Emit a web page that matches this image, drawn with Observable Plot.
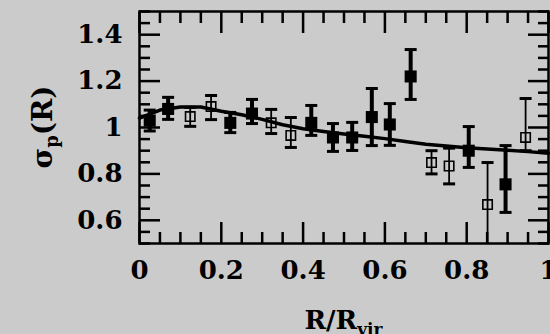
<!DOCTYPE html>
<html>
<head>
<meta charset="utf-8">
<script src="https://cdn.jsdelivr.net/npm/d3@7"></script>
<script src="https://cdn.jsdelivr.net/npm/@observablehq/plot@0.6"></script>
<style>
  html, body { margin: 0; padding: 0; background: #cbcbcb; }
  #chart svg { display: block; }
</style>
</head>
<body>
<div id="chart"></div>
<script>
// Filled squares: projected velocity dispersion profile, sample A
const filledR     = [0.025, 0.07, 0.222, 0.275, 0.42, 0.473, 0.52, 0.568, 0.612, 0.663, 0.805, 0.895];
const filledSigma = [1.03, 1.08, 1.02, 1.06, 1.02, 0.957, 0.957, 1.045, 1.013, 1.22, 0.90, 0.755];
const filledLo    = [0.985, 1.035, 0.978, 1.017, 0.966, 0.897, 0.901, 0.922, 0.923, 1.121, 0.828, 0.634];
const filledHi    = [1.075, 1.13, 1.065, 1.121, 1.095, 1.017, 1.022, 1.168, 1.103, 1.336, 1.004, 0.922];

// Open squares: sample B
const openR     = [0.124, 0.175, 0.322, 0.37, 0.714, 0.757, 0.851, 0.944];
const openSigma = [1.047, 1.09, 1.02, 0.966, 0.849, 0.834, 0.668, 0.957];
const openLo    = [1.005, 1.034, 0.974, 0.914, 0.80, 0.757, 0.487, 0.90];
const openHi    = [1.087, 1.138, 1.078, 1.043, 0.90, 0.911, 0.849, 1.125];

// Model curve
const modelR     = [0, 0.05, 0.10, 0.15, 0.20, 0.25, 0.30, 0.35, 0.40, 0.45, 0.50, 0.55, 0.60, 0.65, 0.70, 0.75, 0.80, 0.85, 0.90, 0.95, 1.00];
const modelSigma = [1.04, 1.075, 1.088, 1.088, 1.07, 1.055, 1.035, 1.012, 0.995, 0.983, 0.972, 0.962, 0.952, 0.94, 0.928, 0.92, 0.913, 0.907, 0.902, 0.896, 0.889];

// Axis ticks and labels
const xTicks = [0, 0.2, 0.4, 0.6, 0.8, 1];
const xTickLabels = ["0", "0.2", "0.4", "0.6", "0.8", "1"];
const yTicks = [0.6, 0.8, 1, 1.2, 1.4];
const yTickLabels = ["0.6", "0.8", "1", "1.2", "1.4"];

const filled = filledR.map((r, i) => ({r, s: filledSigma[i], lo: filledLo[i], hi: filledHi[i]}));
const open = openR.map((r, i) => ({r, s: openSigma[i], lo: openLo[i], hi: openHi[i]}));
const model = modelR.map((r, i) => ({r, s: modelSigma[i]}));

const xMinor = d3.range(0, 1.0001, 0.05).map(v => +v.toFixed(2)).filter(v => !xTicks.includes(v));
const yMinor = d3.range(0.5, 1.5001, 0.05).map(v => +v.toFixed(2)).filter(v => !yTicks.includes(v));

// horizontal cap for error bars
const cap = {draw(ctx, size) { const w = Math.sqrt(size / Math.PI); ctx.moveTo(-w, 0); ctx.lineTo(w, 0); }};

const W = 550, H = 334;
const mL = 139, mR = 2, mT = 11, mB = 91;
const font = {fontFamily: "DejaVu Serif", fontWeight: "bold", fill: "black"};
const tickStyle = {stroke: "black", strokeWidth: 2.5, label: null};

const plot = Plot.plot({
  width: W, height: H,
  marginLeft: mL, marginRight: mR, marginTop: mT, marginBottom: mB,
  style: {background: "#cbcbcb", color: "black"},
  x: {domain: [0, 1]},
  y: {domain: [0.5, 1.5]},
  marks: [
    // inward ticks on all four sides
    Plot.axisX(xTicks, {anchor: "bottom", tickSize: -21, fill: "none", ...tickStyle}),
    Plot.axisX(xMinor, {anchor: "bottom", tickSize: -11, fill: "none", ...tickStyle}),
    Plot.axisX(xTicks, {anchor: "top", tickSize: -21, fill: "none", ...tickStyle}),
    Plot.axisX(xMinor, {anchor: "top", tickSize: -11, fill: "none", ...tickStyle}),
    Plot.axisY(yTicks, {anchor: "left", tickSize: -21, fill: "none", ...tickStyle}),
    Plot.axisY(yMinor, {anchor: "left", tickSize: -11, fill: "none", ...tickStyle}),
    Plot.axisY(yTicks, {anchor: "right", tickSize: -21, fill: "none", ...tickStyle}),
    Plot.axisY(yMinor, {anchor: "right", tickSize: -11, fill: "none", ...tickStyle}),
    // tick labels
    Plot.axisX(xTicks, {anchor: "bottom", tickSize: 0, tickPadding: 17, label: null,
      tickFormat: (d, i) => xTickLabels[i], fontSize: 26, ...font}),
    Plot.axisY(yTicks, {anchor: "left", tickSize: 0, tickPadding: 17, label: null,
      tickFormat: (d, i) => yTickLabels[i], fontSize: 26, ...font}),
    Plot.frame({stroke: "black", strokeWidth: 2.5}),
    // model curve
    Plot.line(model, {x: "r", y: "s", stroke: "black", strokeWidth: 3.5}),
    // open squares with thin error bars
    Plot.ruleX(open, {x: "r", y1: "lo", y2: "hi", stroke: "black", strokeWidth: 1.8, clip: true}),
    Plot.dot(open, {x: "r", y: "lo", symbol: cap, r: 6, stroke: "black", strokeWidth: 3, clip: true}),
    Plot.dot(open, {x: "r", y: "hi", symbol: cap, r: 6, stroke: "black", strokeWidth: 3, clip: true}),
    Plot.dot(open, {x: "r", y: "s", symbol: "square", r: 5.3, stroke: "black", strokeWidth: 1.6, fill: "none"}),
    // filled squares with thick error bars
    Plot.ruleX(filled, {x: "r", y1: "lo", y2: "hi", stroke: "black", strokeWidth: 4}),
    Plot.dot(filled, {x: "r", y: "lo", symbol: cap, r: 6, stroke: "black", strokeWidth: 3}),
    Plot.dot(filled, {x: "r", y: "hi", symbol: cap, r: 6, stroke: "black", strokeWidth: 3}),
    Plot.dot(filled, {x: "r", y: "s", symbol: "square", r: 6.8, fill: "black", stroke: "none"})
  ]
});

// axis titles with subscripts
const svg = d3.select(plot);
const cx = mL + (W - mL - mR) / 2;
const xt = svg.append("text")
  .attr("x", cx).attr("y", 329)
  .attr("text-anchor", "middle")
  .attr("font-family", "DejaVu Serif").attr("font-weight", "bold")
  .attr("font-size", 26).attr("fill", "black");
xt.append("tspan").text("R/R");
xt.append("tspan").attr("font-size", 17).attr("dy", 6).text("vir");

const cy = mT + (H - mT - mB) / 2;
const yt = svg.append("text")
  .attr("transform", `translate(52,${cy}) rotate(-90)`)
  .attr("text-anchor", "middle")
  .attr("font-family", "DejaVu Serif").attr("font-weight", "bold")
  .attr("font-size", 28).attr("fill", "black");
yt.append("tspan").text("σ");
yt.append("tspan").attr("font-size", 18).attr("dy", 6).text("p");
yt.append("tspan").attr("dy", -6).text("(R)");

document.getElementById("chart").append(plot);
</script>
</body>
</html>
